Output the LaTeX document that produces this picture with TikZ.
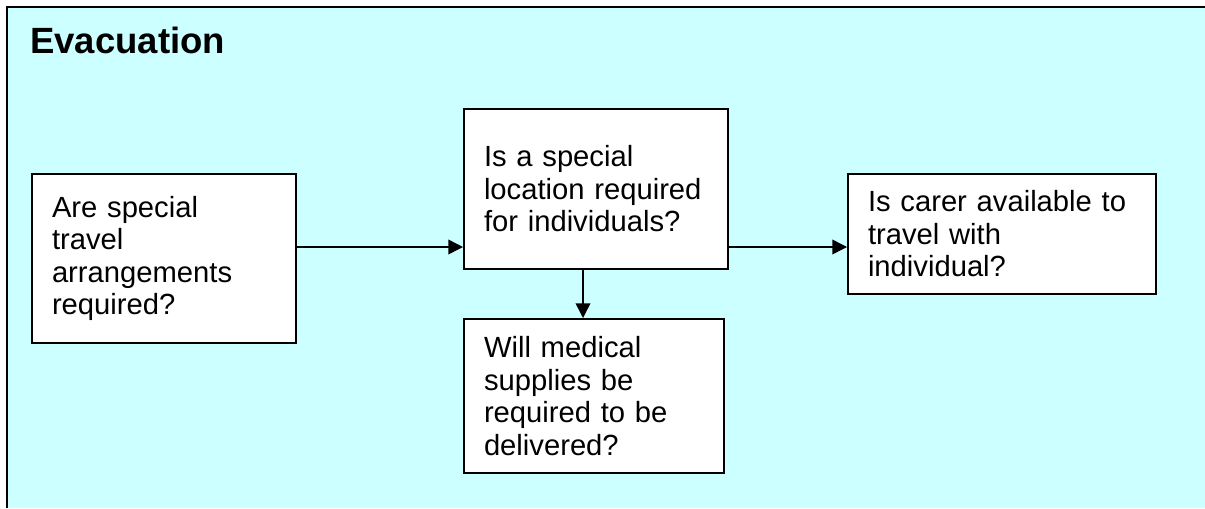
\documentclass[tikz,border=0pt]{standalone}
\usepackage{fontspec}
\setmainfont{Liberation Sans}
\usetikzlibrary{arrows.meta}
\definecolor{bgcyan}{HTML}{CCFFFF}
\begin{document}
\begin{tikzpicture}[x=0.75pt,y=-0.75pt,
  qbox/.style={draw=black,line width=1.5pt,fill=white,rectangle,align=left,
    inner xsep=15pt,inner ysep=0pt,font=\fontsize{21.9pt}{24.4pt}\selectfont},
  conn/.style={line width=1.1pt,-{Triangle[length=11pt,width=11pt]}}]
\useasboundingbox (0,0) rectangle (1205,508);
\fill[white] (0,0) rectangle (1205,508);
\fill[bgcyan] (7,7) rectangle (1205,508);
\draw[line width=2pt] (7,508) -- (7,7) -- (1205,7);
\node[anchor=base west,font=\fontsize{27.4pt}{30pt}\selectfont\bfseries,inner sep=0pt] (title) at (30,53) {Evacuation};
\node[qbox,minimum width=198pt,minimum height=126.75pt,text width=168pt] (b1) at (164,258.5)
  {Are special\\travel\\arrangements\\required?};
\node[qbox,minimum width=198pt,minimum height=120pt,text width=168pt] (b2) at (596,189)
  {Is a special\\location required\\for individuals?};
\node[qbox,minimum width=231pt,minimum height=90pt,text width=201pt] (b3) at (1002,234)
  {Is carer available to\\travel with\\individual?};
\node[qbox,minimum width=195pt,minimum height=115.5pt,text width=165pt] (b4) at (594,396)
  {Will medical\\supplies be\\required to be\\delivered?};
\coordinate (row) at (0,247);
\draw[conn] (b1.east |- row) -- (b2.west |- row);
\draw[conn] (b2.east |- row) -- (b3.west |- row);
\draw[conn] ([xshift=90pt]b2.south west) -- ([xshift=90pt]b4.north west);
\end{tikzpicture}
\end{document}
